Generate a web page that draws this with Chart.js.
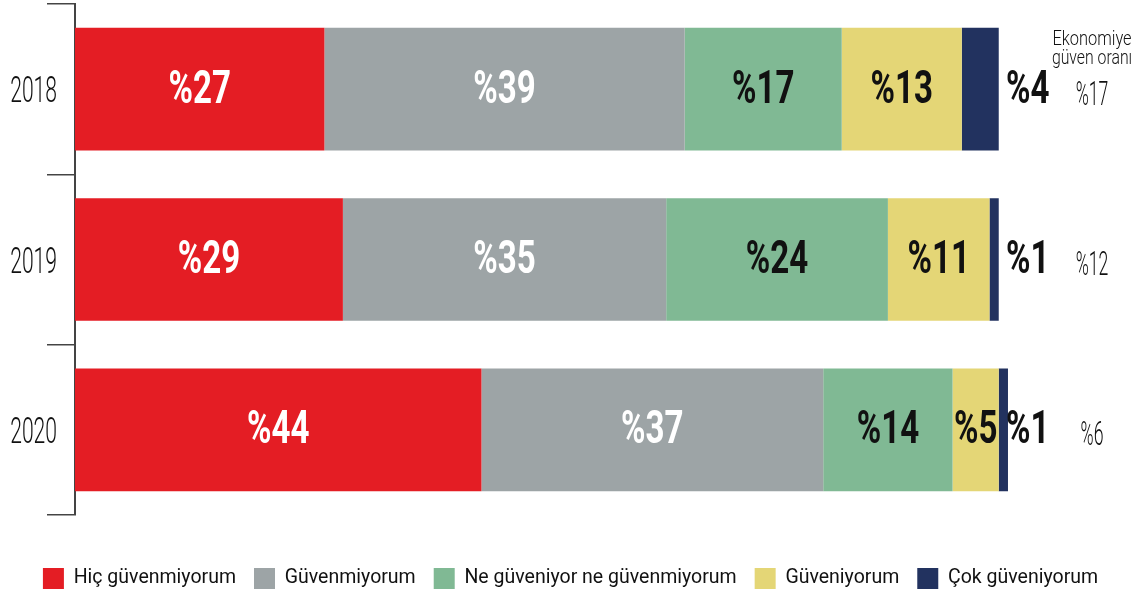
<!DOCTYPE html>
<html><head><meta charset="utf-8">
<script src="https://cdn.jsdelivr.net/npm/chart.js@4.4.1/dist/chart.umd.min.js"></script>
<style>html,body{margin:0;padding:0;background:#fff;} #wrap{width:1141px;height:599px;position:relative;}</style>
</head><body><div id="wrap"><canvas id="c"></canvas></div>
<script>
const years = ['2018', '2019', '2020'];
const seriesNames = ['Hiç güvenmiyorum', 'Güvenmiyorum', 'Ne güveniyor ne güvenmiyorum', 'Güveniyorum', 'Çok güveniyorum'];
const hicGuvenmiyorum = [27, 29, 44];
const guvenmiyorum = [39, 35, 37];
const neGuveniyorNeGuvenmiyorum = [17, 24, 14];
const guveniyorum = [13, 11, 5];
const cokGuveniyorum = [4, 1, 1];
const ekonomiyeGuvenOrani = [17, 12, 6];
const econTitle = ['Ekonomiye', 'güven oranı'];
const colors = ['#E41D24', '#9DA4A6', '#80B994', '#E4D676', '#22325F'];
const labelColors = ['#FFFFFF', '#FFFFFF', '#111111', '#111111', '#111111'];

const FONT = "Roboto, 'DejaVu Sans Condensed', sans-serif";

function drawText(ctx, txt, x, y, font, color, sx, baseline) {
  ctx.save();
  ctx.translate(x, y);
  ctx.scale(sx, 1);
  ctx.font = font;
  ctx.fillStyle = color;
  ctx.textAlign = 'center';
  ctx.textBaseline = baseline;
  ctx.fillText(txt, 0, 0);
  ctx.restore();
}

const valuePlugin = {
  id: 'values',
  afterDatasetsDraw(chart) {
    const ctx = chart.ctx;
    const xs = chart.scales.x;
    const ys = chart.scales.y;
    const last = chart.data.datasets.length - 1;
    chart.data.datasets.forEach((ds, di) => {
      const meta = chart.getDatasetMeta(di);
      meta.data.forEach((bar, i) => {
        const txt = '%' + ds.data[i];
        const cx = di === last ? xs.getPixelForValue(100) + 29 : (bar.x + bar.base) / 2;
        drawText(ctx, txt, cx, bar.y + 2, 'bold 46px ' + FONT, labelColors[di], 0.72, 'middle');
      });
    });
    const ex = chart.chartArea.right - 49;
    drawText(ctx, econTitle[0], ex, 45, '300 20px ' + FONT, '#111', 0.82, 'alphabetic');
    drawText(ctx, econTitle[1], ex, 64, '300 20px ' + FONT, '#111', 0.79, 'alphabetic');
    ekonomiyeGuvenOrani.forEach((v, i) => {
      const y = ys.getPixelForValue(i) + 7;
      drawText(ctx, '%' + v, ex, y, '300 34px ' + FONT, '#111', 0.52, 'middle');
    });
  }
};

const compressPlugin = {
  id: 'compressTicks',
  afterLayout(chart) {
    const ys = chart.scales.y;
    if (ys && !ys._wrapped) {
      const orig = ys.drawLabels;
      ys._computeLabelArea = function () { return undefined; };
      ys.drawLabels = function (area) {
        const ctx = this.ctx;
        const ax = this.right - this.options.grid.tickLength - this.options.ticks.padding;
        ctx.save();
        ctx.translate(ax, 4);
        ctx.scale(0.57, 1);
        ctx.translate(-ax, 0);
        orig.call(this, area);
        ctx.restore();
      };
      ys._wrapped = true;
    }
  }
};

const seriesData = [hicGuvenmiyorum, guvenmiyorum, neGuveniyorNeGuvenmiyorum, guveniyorum, cokGuveniyorum];

new Chart(document.getElementById('c'), {
  type: 'bar',
  data: {
    labels: years,
    datasets: seriesData.map((d, i) => ({
      label: seriesNames[i],
      data: d,
      backgroundColor: colors[i],
      borderWidth: 0,
      barPercentage: 1,
      categoryPercentage: 0.72
    }))
  },
  options: {
    indexAxis: 'y',
    responsive: true,
    maintainAspectRatio: false,
    animation: false,
    devicePixelRatio: 1,
    layout: { padding: { top: 4, left: 0, right: 0, bottom: 0 } },
    scales: {
      x: {
        stacked: true, min: 0, max: 115.4,
        ticks: { display: false },
        grid: { display: false },
        border: { display: false },
        afterFit(s) { s.height = 35; }
      },
      y: {
        stacked: true,
        offset: true,
        grid: { offset: true, drawOnChartArea: false, drawTicks: true, tickLength: 28, color: '#444', lineWidth: 1.5 },
        border: { display: true, color: '#444', width: 2 },
        ticks: { padding: -10, color: '#111', font: { family: FONT, size: 37, weight: '300', lineHeight: 0.5 } },
        afterFit(s) { s.width = 75; }
      }
    },
    plugins: {
      tooltip: { enabled: false },
      legend: {
        position: 'bottom',
        labels: { boxWidth: 21, boxHeight: 21, padding: 18, color: '#111', font: { family: FONT, size: 19.5 } }
      }
    }
  },
  plugins: [valuePlugin, compressPlugin]
});
</script>
</body></html>
